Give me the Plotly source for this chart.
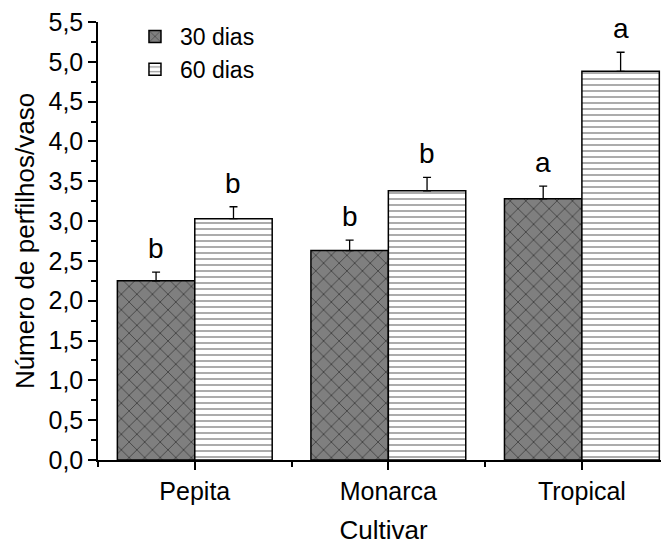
import plotly.graph_objects as go

cultivars = ["Pepita", "Monarca", "Tropical"]
dias30 = [2.25, 2.63, 3.28]
dias30_err = [0.11, 0.13, 0.16]
dias30_letters = ["b", "b", "a"]
dias60 = [3.03, 3.38, 4.88]
dias60_err = [0.15, 0.17, 0.24]
dias60_letters = ["b", "b", "a"]
yticks = [0.0, 0.5, 1.0, 1.5, 2.0, 2.5, 3.0, 3.5, 4.0, 4.5, 5.0, 5.5]

xpos = list(range(len(cultivars)))
FONT = "Liberation Sans, Arial, sans-serif"

fig = go.Figure()
fig.add_trace(go.Bar(
    x=xpos, y=dias30, name="30 dias",
    marker=dict(color="#7f7f7f", line=dict(color="black", width=1.5),
                pattern=dict(shape="x", size=11, solidity=0.15, fgcolor="black", bgcolor="#7f7f7f")),
    error_y=dict(type="data", array=dias30_err, symmetric=False, arrayminus=[0]*3,
                 color="black", thickness=1.3, width=4),
))
fig.add_trace(go.Bar(
    x=xpos, y=dias60, name="60 dias",
    marker=dict(color="white", line=dict(color="black", width=1.5),
                pattern=dict(shape="-", size=6, solidity=0.25, fgcolor="#222222", bgcolor="white")),
    error_y=dict(type="data", array=dias60_err, symmetric=False, arrayminus=[0]*3,
                 color="black", thickness=1.3, width=4),
))

annotations = []
for i in xpos:
    annotations.append(dict(x=i - 0.2, y=dias30[i] + dias30_err[i], text=dias30_letters[i],
                            showarrow=False, yanchor="bottom", yshift=6,
                            font=dict(family=FONT, size=28, color="black")))
    annotations.append(dict(x=i + 0.2, y=dias60[i] + dias60_err[i], text=dias60_letters[i],
                            showarrow=False, yanchor="bottom", yshift=6,
                            font=dict(family=FONT, size=28, color="black")))

fig.update_layout(
    width=661, height=537,
    margin=dict(l=90, r=0, t=12, b=82),
    paper_bgcolor="white", plot_bgcolor="white",
    barmode="group", bargap=0.2, bargroupgap=0,
    separators=", ",
    font=dict(family=FONT, size=25, color="black"),
    showlegend=True,
    legend=dict(x=0.056, y=1.016, xanchor="left", yanchor="top",
                bgcolor="rgba(0,0,0,0)", font=dict(size=23), itemwidth=40),
    annotations=annotations,
    xaxis=dict(
        range=[-0.5, 2.45], tickmode="array", tickvals=xpos, ticktext=cultivars,
        showline=True, linecolor="black", linewidth=1.5, showgrid=False, zeroline=False,
        ticks="outside", ticklen=8, tickwidth=1.5, tickcolor="black",
        minor=dict(tick0=-0.5, dtick=1, ticks="outside", ticklen=5, tickwidth=1.5, tickcolor="black"),
        title=dict(text="Cultivar", font=dict(size=26), standoff=22),
        tickfont=dict(size=25), ticklabeloverflow="allow",
    ),
    yaxis=dict(
        range=[0, 5.5], tickmode="array", tickvals=yticks, tickformat=".1f",
        showline=True, linecolor="black", linewidth=1.5, showgrid=False, zeroline=False,
        ticks="outside", ticklen=8, tickwidth=1.5, tickcolor="black",
        minor=dict(dtick=0.25, ticks="outside", ticklen=5, tickwidth=1.5, tickcolor="black"),
        title=dict(text="Número de perfilhos/vaso", font=dict(size=26), standoff=6),
        tickfont=dict(size=25), ticklabeloverflow="allow",
    ),
)

fig.write_html("out.html")
